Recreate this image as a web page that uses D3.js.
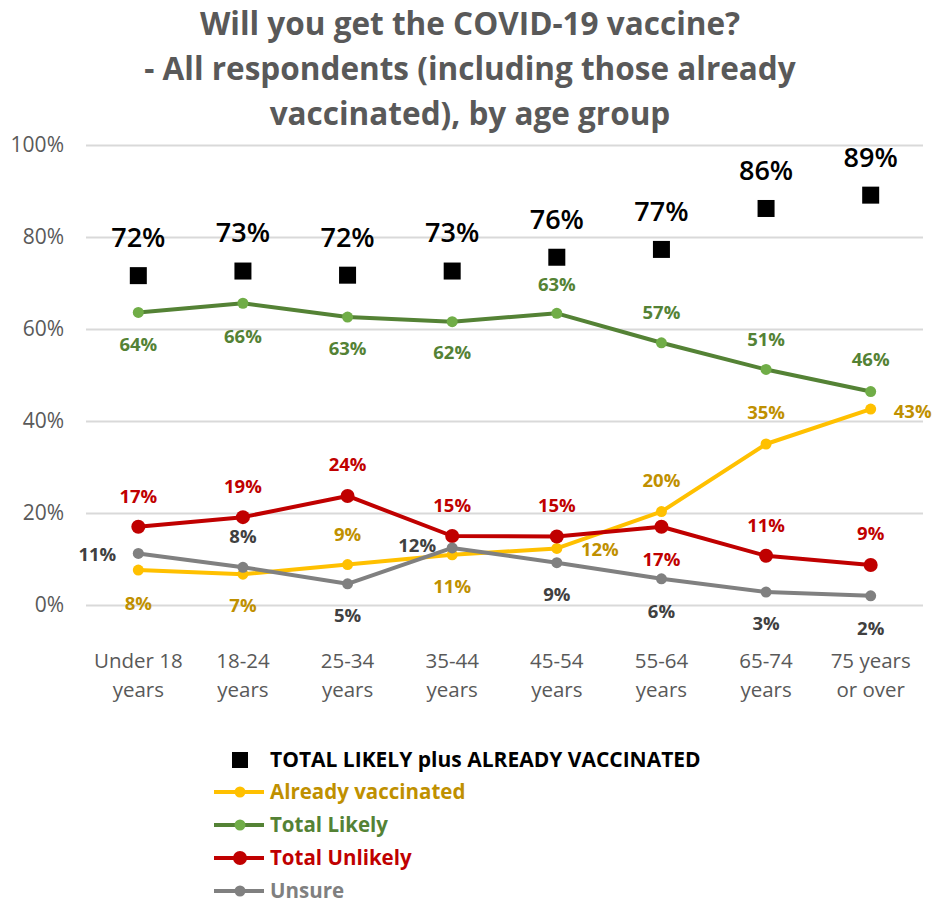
<!DOCTYPE html>
<html>
<head>
<meta charset="utf-8">
<script src="https://cdn.jsdelivr.net/npm/d3@7"></script>
<style>
  html, body { margin: 0; padding: 0; background: #fff; }
  svg { display: block; font-family: "Open Sans", Lato, sans-serif; }
</style>
</head>
<body>
<svg id="chart" width="935" height="904"></svg>
<script>
// Age groups (two-line axis labels)
const categories = [
  ["Under 18", "years"], ["18-24", "years"], ["25-34", "years"], ["35-44", "years"],
  ["45-54", "years"], ["55-64", "years"], ["65-74", "years"], ["75 years", "or over"]
];
// Percent of respondents per age group
const totalPlusVaccinated = [71.6, 72.6, 71.7, 72.6, 75.6, 77.3, 86.2, 89.1];
const alreadyVaccinated   = [7.6, 6.7, 8.8, 10.9, 12.3, 20.3, 35.0, 42.6];
const totalLikely         = [63.6, 65.6, 62.6, 61.6, 63.4, 57.0, 51.2, 46.4];
const totalUnlikely       = [17.0, 19.1, 23.7, 15.0, 14.9, 17.0, 10.7, 8.7];
const unsure              = [11.2, 8.2, 4.6, 12.4, 9.2, 5.7, 2.8, 2.0];
const yTicks = [0, 20, 40, 60, 80, 100];

// Label placement per point: [dx, dy] relative to the marker
const placeSquare = [[0,-38],[0,-38],[0,-38],[0,-38],[0,-38],[0,-38],[0,-38],[0,-38]];
const placeVacc   = [[0,33],[0,31],[0,-30],[0,32],[43,1],[0,-31],[0,-31],[42,2]];
const placeLikely = [[0,32],[0,33],[0,31],[0,31],[0,-29],[0,-30],[0,-30],[0,-32]];
const placeUnlik  = [[0,-30],[0,-31],[0,-31],[0,-30],[0,-31],[0,33],[0,-30],[0,-31]];
const placeUnsure = [[-41,1],[0,-31],[0,32],[-35,-2],[0,32],[0,33],[0,31],[0,33]];

const series = [
  { name: "Already vaccinated", values: alreadyVaccinated, line: "#FFC000", marker: "#FFC000", label: "#BF9000", legendText: "#BF9000", r: 5.5, place: placeVacc },
  { name: "Total Likely", values: totalLikely, line: "#548235", marker: "#70AD47", label: "#548235", legendText: "#548235", r: 5.5, place: placeLikely },
  { name: "Total Unlikely", values: totalUnlikely, line: "#C00000", marker: "#C00000", label: "#C00000", legendText: "#C00000", r: 7, place: placeUnlik },
  { name: "Unsure", values: unsure, line: "#808080", marker: "#808080", label: "#404040", legendText: "#808080", r: 5.5, place: placeUnsure }
];

const svg = d3.select("#chart");
const plotLeft = 86, plotRight = 923, plotTop = 145, plotBottom = 605;

const x = d3.scaleBand().domain(d3.range(categories.length)).range([plotLeft, plotRight]);
const cx = i => x(i) + x.bandwidth() / 2;
const y = d3.scaleLinear().domain([0, 100]).range([plotBottom, plotTop]);
const fmt = v => Math.round(v) + "%";

// Title
const title = ["Will you get the COVID-19 vaccine?", "- All respondents (including those already", "vaccinated), by age group"];
svg.append("g").selectAll("text").data(title).join("text")
  .attr("x", 470).attr("y", (d, i) => 35 + i * 45)
  .attr("text-anchor", "middle")
  .attr("font-size", 31.5).attr("font-weight", "bold").attr("fill", "#595959")
  .text(d => d);

// Gridlines and y axis
const yAxis = d3.axisLeft(y).tickValues(yTicks).tickFormat(d => d + "%").tickSize(-(plotRight - plotLeft)).tickPadding(22);
const gy = svg.append("g").attr("transform", `translate(${plotLeft},0)`).call(yAxis);
gy.select(".domain").remove();
gy.selectAll(".tick line").attr("stroke", "#D9D9D9").attr("stroke-width", 2);
gy.selectAll(".tick text").attr("font-size", 21).attr("fill", "#595959").attr("font-family", "'Open Sans', sans-serif");

// X axis labels
const xAxis = d3.axisBottom(x).tickSize(0).tickFormat("");
const gx = svg.append("g").attr("transform", `translate(0,${plotBottom})`).call(xAxis);
gx.select(".domain").remove();
gx.selectAll(".tick").each(function(i) {
  const t = d3.select(this).append("text")
    .attr("text-anchor", "middle").attr("font-size", 20.5).attr("fill", "#595959")
    .attr("font-family", "'Open Sans', sans-serif");
  categories[i].forEach((line, k) => {
    t.append("tspan").attr("x", 0).attr("y", 63 + k * 29).text(line);
  });
});

// Series lines and markers
const line = d3.line().x((d, i) => cx(i)).y(d => y(d));
const plot = svg.append("g");
series.forEach(s => {
  plot.append("path").datum(s.values)
    .attr("d", line).attr("fill", "none")
    .attr("stroke", s.line).attr("stroke-width", 4).attr("stroke-linejoin", "round");
});
series.forEach(s => {
  plot.append("g").selectAll("circle").data(s.values).join("circle")
    .attr("cx", (d, i) => cx(i)).attr("cy", d => y(d)).attr("r", s.r)
    .attr("fill", s.marker);
});

// Total likely plus already vaccinated markers
const sq = 17;
plot.append("g").selectAll("rect").data(totalPlusVaccinated).join("rect")
  .attr("x", (d, i) => cx(i) - sq / 2).attr("y", d => y(d) - sq / 2)
  .attr("width", sq).attr("height", sq).attr("fill", "#000");

// Data labels
const labels = svg.append("g").attr("font-weight", "bold");
series.forEach(s => {
  labels.append("g").selectAll("text").data(s.values).join("text")
    .attr("x", (d, i) => cx(i) + s.place[i][0])
    .attr("y", (d, i) => y(d) + s.place[i][1])
    .attr("dy", "0.35em").attr("text-anchor", "middle")
    .attr("font-size", 18.5).attr("fill", s.label)
    .text(fmt);
});
labels.append("g").selectAll("text").data(totalPlusVaccinated).join("text")
  .attr("x", (d, i) => cx(i) + placeSquare[i][0])
  .attr("y", (d, i) => y(d) + placeSquare[i][1])
  .attr("dy", "0.35em").attr("text-anchor", "middle")
  .attr("font-size", 27).attr("font-weight", 600).attr("fill", "#000")
  .text(fmt);

// Legend
const legend = svg.append("g");
legend.append("rect").attr("x", 232).attr("y", 752).attr("width", 16).attr("height", 16).attr("fill", "#000");
legend.append("text").attr("x", 270).attr("y", 760).attr("dy", "0.35em")
  .attr("font-size", 21).attr("font-weight", "bold").attr("fill", "#000")
  .text("TOTAL LIKELY plus ALREADY VACCINATED");
series.forEach((s, k) => {
  const ly = 792 + k * 33;
  legend.append("line").attr("x1", 214).attr("x2", 264).attr("y1", ly).attr("y2", ly)
    .attr("stroke", s.line).attr("stroke-width", 4);
  legend.append("circle").attr("cx", 240).attr("cy", ly).attr("r", s.r).attr("fill", s.marker);
  legend.append("text").attr("x", 270).attr("y", ly).attr("dy", "0.35em")
    .attr("font-size", 20.5).attr("font-weight", "bold").attr("fill", s.legendText)
    .text(s.name);
});
</script>
</body>
</html>
